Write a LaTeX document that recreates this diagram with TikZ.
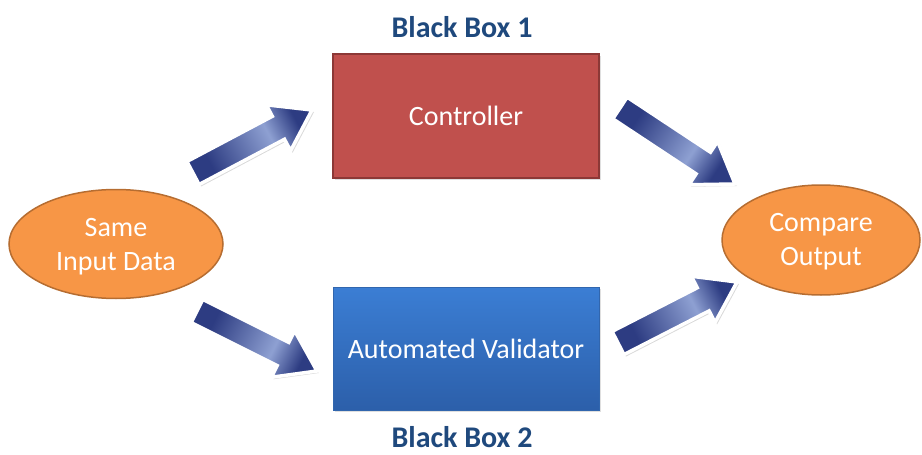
\documentclass[tikz,border=0pt]{standalone}
\usepackage{fontspec}
\setmainfont{Carlito}
\usetikzlibrary{calc,shadows,shapes.geometric}

\definecolor{boxred}{HTML}{C0504D}
\definecolor{boxredline}{HTML}{8C3836}
\definecolor{boxbluetop}{HTML}{3B7ED4}
\definecolor{boxbluebot}{HTML}{2C5FAA}
\definecolor{boxblueline}{HTML}{3166AE}
\definecolor{ovalfill}{HTML}{F79646}
\definecolor{ovalline}{HTML}{B66D31}
\definecolor{titleblue}{HTML}{1F497D}
\definecolor{arrdark}{HTML}{2D3C82}
\definecolor{arrlight}{HTML}{8EA0D2}

% shading along the length of a block arrow: dark tail, light middle, dark head
\pgfdeclarehorizontalshading{arrowshade}{100bp}{%
  color(0bp)=(arrdark); color(30bp)=(arrdark); color(60bp)=(arrlight);
  color(74bp)=(arrdark); color(100bp)=(arrdark)}

\tikzset{
  title/.style={font=\fontsize{30}{34}\selectfont\bfseries, text=titleblue, inner sep=0pt},
  label/.style={font=\fontsize{28}{34}\selectfont, text=white, align=center},
  redbox/.style={draw=boxredline, line width=1.5pt, fill=boxred,
    minimum width=266pt, minimum height=124pt, inner sep=0pt,
    drop shadow={opacity=0.25, shadow xshift=1.5pt, shadow yshift=-1.5pt}},
  bluebox/.style={draw=boxblueline, line width=0.8pt, top color=boxbluetop,
    bottom color=boxbluebot, minimum width=266pt, minimum height=123pt, inner sep=0pt,
    drop shadow={opacity=0.25, shadow xshift=1.5pt, shadow yshift=-1.5pt}},
  oval/.style={ellipse, draw=ovalline, line width=1.5pt, fill=ovalfill, inner sep=0pt},
  flow/.style={draw=white, line width=3.5pt, line join=miter, shading=arrowshade,
    drop shadow={opacity=0.3, shadow xshift=2pt, shadow yshift=-2pt}}
}

% block arrow from the coordinate #1 to the coordinate #2
\newcommand\blockarrow[2]{%
  \path let \p1=(#1), \p2=(#2) in \pgfextra{%
    \pgfmathsetmacro\arrang{atan2(\y2-\y1,\x2-\x1)}%
    \pgfmathsetmacro\arrlen{veclen(\x2-\x1,\y2-\y1)}%
    \global\let\arrang\arrang \global\let\arrlen\arrlen};
  \begin{scope}[shift={(#1)}, rotate=\arrang]
    \path[flow, shading angle=\arrang]
      (0,-13) -- (\arrlen-38,-13) -- (\arrlen-38,-26) -- (\arrlen,0)
      -- (\arrlen-38,26) -- (\arrlen-38,13) -- (0,13) -- cycle;
  \end{scope}}

\begin{document}
\begin{tikzpicture}[x=1pt, y=-1pt]
  \useasboundingbox (0,0) rectangle (922,455);

  % the two black boxes
  \node[redbox] (ctrl) at (466,116) {};
  \node[label] at (ctrl.center) {Controller};
  \node[bluebox] (valid) at (466,348.5) {};
  \node[label] at (valid.center) {Automated Validator};

  \node[title] (bb1) at (462,27) {Black Box 1};
  \node[title] (bb2) at (462,437) {Black Box 2};

  % input and output ovals
  \node[oval, minimum width=214pt, minimum height=109pt] (input) at (116,244) {};
  \node[label] at ([yshift=-3pt]input.center) {Same\\Input Data};
  \node[oval, minimum width=198pt, minimum height=110pt] (output) at (821,240) {};
  \node[label] at ([yshift=-2pt]output.center) {Compare\\Output};

  % arrow end points
  \coordinate (a1s) at (193,173);
  \coordinate (a1e) at (312,110);
  \coordinate (a2s) at (197,311);
  \coordinate (a2e) at (317,371);
  \coordinate (a3s) at (620,108);
  \coordinate (a3e) at (735,184);
  \coordinate (a4s) at (618,343);
  \coordinate (a4e) at (737,282);

  \blockarrow{a1s}{a1e}
  \blockarrow{a2s}{a2e}
  \blockarrow{a3s}{a3e}
  \blockarrow{a4s}{a4e}
\end{tikzpicture}
\end{document}
